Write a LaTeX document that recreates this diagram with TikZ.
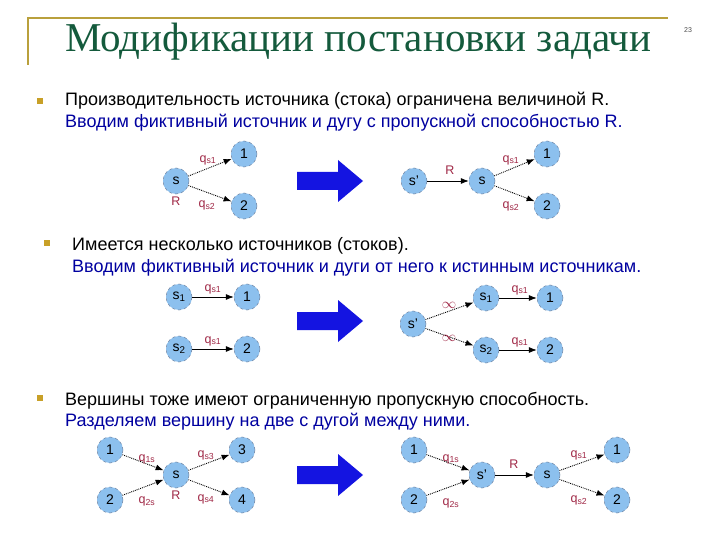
\documentclass[tikz,border=0pt]{standalone}
\usepackage{fontspec}
\setmainfont{Liberation Sans}
\newfontfamily\titlefont{Liberation Serif}
\usetikzlibrary{arrows.meta}
\definecolor{nodefill}{RGB}{140,192,238}
\definecolor{nodeedge}{RGB}{110,130,160}
\definecolor{lblred}{RGB}{160,40,70}
\definecolor{textblue}{RGB}{0,0,160}
\definecolor{titlegreen}{RGB}{20,90,60}
\definecolor{framegold}{RGB}{185,160,60}
\definecolor{bulletgold}{RGB}{200,160,40}
\definecolor{bigblue}{RGB}{20,20,225}
\tikzset{
  vert/.style={circle, minimum size=26pt, inner sep=0pt, fill=nodefill, draw=nodeedge, dashed, line width=0.5pt, font=\fontsize{14}{14}\selectfont},
  dotarc/.style={densely dotted, line width=0.9pt, -{Latex[length=8pt,width=6pt]}},
  solarc/.style={solid, line width=0.7pt, -{Latex[length=8pt,width=6pt]}},
  lbl/.style={text=lblred, font=\fontsize{12.5}{12.5}\selectfont, inner sep=0pt},
  bullet/.style={fill=bulletgold, minimum size=6pt, inner sep=0pt},
  line1/.style={anchor=base west, inner sep=0pt, font=\fontsize{18}{18}\selectfont},
  line2/.style={anchor=base west, inner sep=0pt, text=textblue, font=\fontsize{18}{18}\selectfont}
}
\newcommand{\bigarr}[1]{\fill[bigblue] (297,#1-9) -- (338,#1-9) -- (338,#1-21) -- (363,#1) -- (338,#1+21) -- (338,#1+9) -- (297,#1+9) -- cycle;}
\begin{document}
\begin{tikzpicture}[x=1pt,y=-1pt]
\useasboundingbox (0,0) rectangle (720,540);
\fill[white] (0,0) rectangle (720,540);
% frame
\draw[framegold, line width=1.5pt] (28,65) -- (28,18) -- (668,18);
\node[anchor=base west, inner sep=0pt, text=titlegreen, font=\titlefont\fontsize{41}{41}\selectfont] (title) at (65,52) {Модификации постановки задачи};
\node[font=\fontsize{7}{7}\selectfont, text=black!70] (pnum) at (688,30) {23};
% bullet 1
\node[bullet] (b1) at (40,101) {};
\node[line1] (t1a) at (65,106) {Производительность источника (стока) ограничена величиной R.};
\node[line2] (t1b) at (65,128) {Вводим фиктивный источник и дугу с пропускной способностью R.};
% bullet 2
\node[bullet] (b2) at (47,243) {};
\node[line1] (t2a) at (72,250) {Имеется несколько источников (стоков).};
\node[line2] (t2b) at (72,272) {Вводим фиктивный источник и дуги от него к истинным источникам.};
% bullet 3
\node[bullet] (b3) at (40,398) {};
\node[line1] (t3a) at (65,405) {Вершины тоже имеют ограниченную пропускную способность.};
\node[line2] (t3b) at (65,426) {Разделяем вершину на две с дугой между ними.};

% ---- diagram 1 left
\node[vert] (a-s) at (176,181) {s};
\node[vert] (a-1) at (244,154) {1};
\node[vert] (a-2) at (244,206) {2};
\draw[dotarc] (a-s) -- (a-1);
\draw[dotarc] (a-s) -- (a-2);
\node[lbl] (a-l1) at (208,160) {q\textsubscript{s1}};
\node[lbl] (a-l2) at (207,205) {q\textsubscript{s2}};
\node[lbl] (a-R) at (176,201) {R};
\bigarr{181}
% ---- diagram 1 right
\node[vert] (b-sp) at (414,181) {s'};
\node[vert] (b-s) at (482,181) {s};
\node[vert] (b-1) at (547,154) {1};
\node[vert] (b-2) at (547,206) {2};
\draw[solarc] (b-sp) -- (b-s);
\draw[dotarc] (b-s) -- (b-1);
\draw[dotarc] (b-s) -- (b-2);
\node[lbl] (b-R) at (450,170) {R};
\node[lbl] (b-l1) at (511,160) {q\textsubscript{s1}};
\node[lbl] (b-l2) at (511,206) {q\textsubscript{s2}};

% ---- diagram 2 left
\node[vert] (c-s1) at (179,297) {s\textsubscript{1}};
\node[vert] (c-1) at (247,297) {1};
\node[vert] (c-s2) at (179,349) {s\textsubscript{2}};
\node[vert] (c-2) at (247,349) {2};
\draw[solarc] (c-s1) -- (c-1);
\draw[solarc] (c-s2) -- (c-2);
\node[lbl] (c-l1) at (213,289) {q\textsubscript{s1}};
\node[lbl] (c-l2) at (213,341) {q\textsubscript{s1}};
\bigarr{321}
% ---- diagram 2 right
\node[vert] (d-sp) at (413,324) {s'};
\node[vert] (d-s1) at (486,298) {s\textsubscript{1}};
\node[vert] (d-1) at (550,298) {1};
\node[vert] (d-s2) at (486,350) {s\textsubscript{2}};
\node[vert] (d-2) at (550,350) {2};
\draw[dotarc] (d-sp) -- (d-s1);
\draw[dotarc] (d-sp) -- (d-s2);
\draw[solarc] (d-s1) -- (d-1);
\draw[solarc] (d-s2) -- (d-2);
\node[lbl, font=\fontsize{14}{14}\selectfont] (d-i1) at (449,305) {$\infty$};
\node[lbl, font=\fontsize{14}{14}\selectfont] (d-i2) at (449,338) {$\infty$};
\node[lbl] (d-l1) at (520,290) {q\textsubscript{s1}};
\node[lbl] (d-l2) at (520,342) {q\textsubscript{s1}};

% ---- diagram 3 left
\node[vert] (e-1) at (110,450) {1};
\node[vert] (e-2) at (110,500) {2};
\node[vert] (e-s) at (176,475) {s};
\node[vert] (e-3) at (242,450) {3};
\node[vert] (e-4) at (242,500) {4};
\draw[dotarc] (e-1) -- (e-s);
\draw[dotarc] (e-2) -- (e-s);
\draw[dotarc] (e-s) -- (e-3);
\draw[dotarc] (e-s) -- (e-4);
\node[lbl] (e-l1) at (147,459) {q\textsubscript{1s}};
\node[lbl] (e-l2) at (147,501) {q\textsubscript{2s}};
\node[lbl] (e-l3) at (206,455) {q\textsubscript{s3}};
\node[lbl] (e-l4) at (206,499) {q\textsubscript{s4}};
\node[lbl] (e-R) at (176,495) {R};
\bigarr{475}
% ---- diagram 3 right
\node[vert] (f-1) at (414,450) {1};
\node[vert] (f-2) at (414,500) {2};
\node[vert] (f-sp) at (482,475) {s'};
\node[vert] (f-s) at (547,475) {s};
\node[vert] (f-o1) at (617,450) {1};
\node[vert] (f-o2) at (617,500) {2};
\draw[dotarc] (f-1) -- (f-sp);
\draw[dotarc] (f-2) -- (f-sp);
\draw[solarc] (f-sp) -- (f-s);
\draw[dotarc] (f-s) -- (f-o1);
\draw[dotarc] (f-s) -- (f-o2);
\node[lbl] (f-l1) at (451,459) {q\textsubscript{1s}};
\node[lbl] (f-l2) at (451,503) {q\textsubscript{2s}};
\node[lbl] (f-R) at (514,464) {R};
\node[lbl] (f-l3) at (579,455) {q\textsubscript{s1}};
\node[lbl] (f-l4) at (579,500) {q\textsubscript{s2}};
\end{tikzpicture}
\end{document}
